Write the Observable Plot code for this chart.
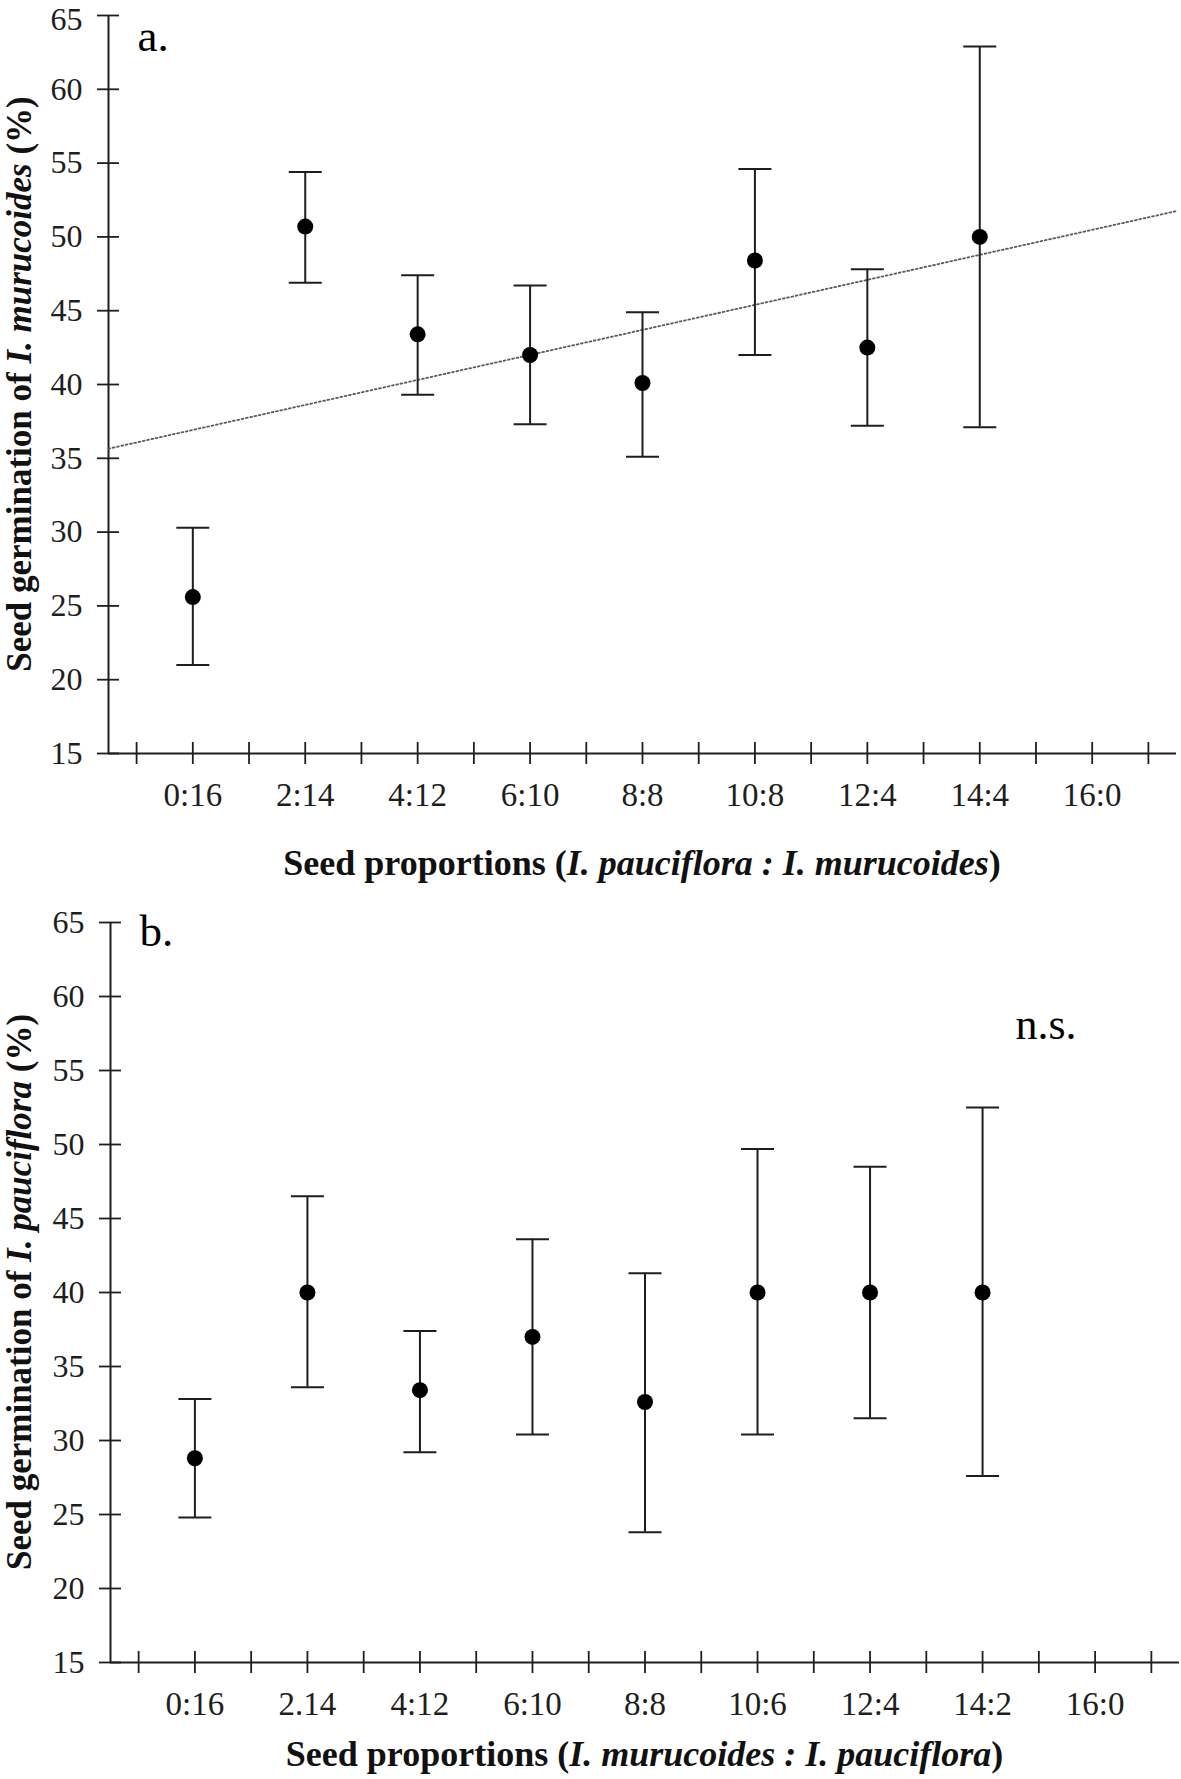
<!DOCTYPE html>
<html><head><meta charset="utf-8">
<script src="https://cdn.jsdelivr.net/npm/d3@7"></script>
<script src="https://cdn.jsdelivr.net/npm/@observablehq/plot@0.6"></script>
<style>
html,body{margin:0;padding:0;background:#fff;}
#chart svg{display:block;}
</style></head>
<body><div id="chart"></div>
<script>
// ---- Data ----
const categoriesA = ["0:16","2:14","4:12","6:10","8:8","10:8","12:4","14:4","16:0"];
const meanA = [25.6, 50.7, 43.4, 42.0, 40.1, 48.4, 42.5, 50.0];
const lowA  = [21.0, 46.9, 39.3, 37.3, 35.1, 42.0, 37.2, 37.1];
const highA = [30.3, 54.4, 47.4, 46.7, 44.9, 54.6, 47.8, 62.9];
const trendX = [-0.75, 8.75];
const trendY = [35.65, 51.75];

const categoriesB = ["0:16","2.14","4:12","6:10","8:8","10:6","12:4","14:2","16:0"];
const meanB = [28.8, 40.0, 33.4, 37.0, 32.6, 40.0, 40.0, 40.0];
const lowB  = [24.8, 33.6, 29.2, 30.4, 23.8, 30.4, 31.5, 27.6];
const highB = [32.8, 46.5, 37.4, 43.6, 41.3, 49.7, 48.5, 52.5];

const yTicks = [15, 20, 25, 30, 35, 40, 45, 50, 55, 60, 65];
const xDomain = [-0.75, 8.75];
const yDomain = [15, 65];

const FONT = '"Liberation Serif", "Times New Roman", Times, serif';
const INK = "#1e1e1e";
const capSymbol = {draw(ctx) { ctx.moveTo(-16.5, 0); ctx.lineTo(16.5, 0); }};

function panel(cfg) {
  const rows = cfg.mean.map((m, i) => ({i, mean: m, low: cfg.low[i], high: cfg.high[i]}));
  const halfTicks = d3.range(-1, 18).map(k => k / 2);
  const topTick = yTicks[yTicks.length - 1];
  const marks = [
    Plot.ruleX([xDomain[0]], {stroke: INK, strokeWidth: 2}),
    Plot.ruleY([yDomain[0]], {stroke: INK, strokeWidth: 2}),
    Plot.axisY({ticks: yTicks, tickSize: 22, dx: 11, tickPadding: 15, fontSize: 32, label: null, color: INK, strokeWidth: 1.8,
      tickFormat: d => (cfg.nudgeTop && d === topTick) ? "" : String(d)}),
    Plot.axisX({ticks: halfTicks, tickSize: 22, dy: -11, tickPadding: 18, fontSize: 33, label: null, color: INK, strokeWidth: 1.8,
      tickFormat: d => (Number.isInteger(d) && d >= 0 && d < cfg.cats.length) ? cfg.cats[d] : ""})
  ];
  if (cfg.nudgeTop) {
    // top tick label, nudged down a little so it stays inside the picture
    marks.push(Plot.text([topTick], {y: d => d, text: d => String(d), frameAnchor: "left", dx: -26, dy: cfg.nudgeTop,
      textAnchor: "end", fontSize: 32, fill: INK}));
  }
  if (cfg.trend) {
    marks.push(Plot.line(cfg.trend.x.map((x, k) => ({x, y: cfg.trend.y[k]})),
      {x: "x", y: "y", stroke: "#5a5a5a", strokeWidth: 1.8, strokeDasharray: "1.8,2.6"}));
  }
  marks.push(
    Plot.ruleX(rows, {x: "i", y1: "low", y2: "high", stroke: INK, strokeWidth: 2}),
    Plot.dot(rows, {x: "i", y: "high", symbol: capSymbol, r: 1, stroke: INK, strokeWidth: 2, fill: "none"}),
    Plot.dot(rows, {x: "i", y: "low", symbol: capSymbol, r: 1, stroke: INK, strokeWidth: 2, fill: "none"}),
    Plot.dot(rows, {x: "i", y: "mean", r: 8, fill: "#000", stroke: "none"}),
    Plot.text([cfg.letter], {text: d => d, frameAnchor: "top-left", dx: 29, dy: cfg.letterDy, fontSize: 45, textAnchor: "start", lineAnchor: "bottom", fill: "#000"})
  );
  if (cfg.ns) {
    marks.push(Plot.text([cfg.ns], {text: d => d, frameAnchor: "top-right", dx: -164, dy: 116, fontSize: 44, textAnchor: "start", lineAnchor: "bottom", fill: "#000"}));
  }
  const plot = Plot.plot({
    width: 1181, height: cfg.height,
    marginTop: cfg.marginTop, marginBottom: cfg.marginBottom, marginLeft: cfg.marginLeft, marginRight: cfg.marginRight,
    x: {type: "linear", domain: xDomain, axis: null},
    y: {type: "linear", domain: yDomain, axis: null},
    style: {fontFamily: FONT, color: INK, background: "#fff"},
    marks
  });
  const x = plot.scale("x"), y = plot.scale("y");
  const svg = d3.select(plot);
  const xc = (x.apply(xDomain[0]) + x.apply(xDomain[1])) / 2;
  const yc = (y.apply(yDomain[0]) + y.apply(yDomain[1])) / 2;
  const yt = svg.append("text")
    .attr("transform", `translate(${cfg.yTitleX},${yc}) rotate(-90)`)
    .attr("text-anchor", "middle").attr("font-family", FONT).attr("font-weight", "bold")
    .attr("font-size", 35).attr("fill", "#111");
  yt.append("tspan").text("Seed germination of ");
  yt.append("tspan").attr("font-style", "italic").text(cfg.ySpecies);
  yt.append("tspan").text(" (%)");
  const xt = svg.append("text")
    .attr("x", xc).attr("y", cfg.xTitleY)
    .attr("text-anchor", "middle").attr("font-family", FONT).attr("font-weight", "bold")
    .attr("font-size", 36).attr("fill", "#111");
  xt.append("tspan").text("Seed proportions (");
  xt.append("tspan").attr("font-style", "italic").text(cfg.xSpecies);
  xt.append("tspan").text(")");
  return plot;
}

const chart = document.getElementById("chart");
chart.append(panel({
  cats: categoriesA, mean: meanA, low: lowA, high: highA,
  trend: {x: trendX, y: trendY},
  letter: "a.", letterDy: 35, nudgeTop: 4,
  height: 885, marginTop: 15, marginBottom: 132, marginLeft: 108, marginRight: 5,
  yTitleX: 31, xTitleY: 875,
  ySpecies: "I. murucoides", xSpecies: "I. pauciflora : I. murucoides"
}));
chart.append(panel({
  cats: categoriesB, mean: meanB, low: lowB, high: highB,
  letter: "b.", letterDy: 23, ns: "n.s.",
  height: 894, marginTop: 37, marginBottom: 117, marginLeft: 110, marginRight: 2,
  yTitleX: 31, xTitleY: 881,
  ySpecies: "I. pauciflora", xSpecies: "I. murucoides : I. pauciflora"
}));
</script>
</body></html>
